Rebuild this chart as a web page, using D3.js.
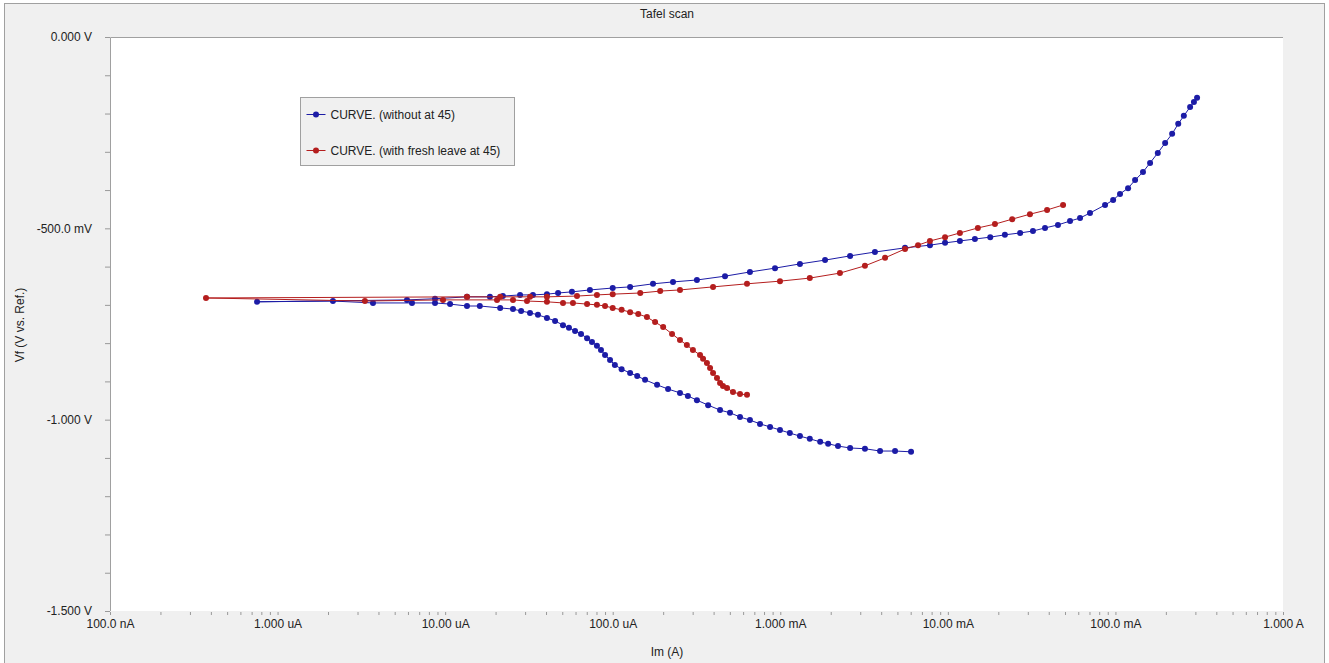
<!DOCTYPE html>
<html>
<head>
<meta charset="utf-8">
<script src="https://cdn.jsdelivr.net/npm/d3@7"></script>
<style>
  body { margin: 0; background: #fff; }
  svg { display: block; font-family: "Liberation Sans", Arial, sans-serif; }
</style>
</head>
<body>
<svg id="chart" width="1329" height="663"></svg>
<script>
// Tafel scan, |I| (A) vs potential (V), points in scan order
const withoutPoints = [
  [6.03e-3, -1.084], [4.84e-3, -1.082], [3.94e-3, -1.082], [3.20e-3, -1.076], [2.61e-3, -1.074],
  [2.21e-3, -1.069], [1.93e-3, -1.063], [1.73e-3, -1.058], [1.50e-3, -1.050], [1.31e-3, -1.043],
  [1.14e-3, -1.035], [9.96e-4, -1.027], [8.69e-4, -1.019], [7.57e-4, -1.011], [6.59e-4, -1.001],
  [5.75e-4, -0.993], [5.01e-4, -0.982], [4.37e-4, -0.975], [3.71e-4, -0.962], [3.18e-4, -0.949],
  [2.81e-4, -0.938], [2.52e-4, -0.930], [2.14e-4, -0.920], [1.84e-4, -0.909], [1.56e-4, -0.896],
  [1.40e-4, -0.886], [1.27e-4, -0.878], [1.13e-4, -0.868], [1.03e-4, -0.857], [9.64e-5, -0.844],
  [9.0e-5, -0.831], [8.51e-5, -0.818], [8.05e-5, -0.807], [7.52e-5, -0.797], [7.03e-5, -0.787],
  [6.47e-5, -0.776], [5.96e-5, -0.768], [5.48e-5, -0.760], [5.05e-5, -0.753], [4.53e-5, -0.742],
  [4.05e-5, -0.734], [3.58e-5, -0.726], [3.21e-5, -0.721], [2.84e-5, -0.716], [2.54e-5, -0.711],
  [2.13e-5, -0.708], [1.61e-5, -0.703], [1.35e-5, -0.703], [1.07e-5, -0.698], [8.7e-6, -0.695],
  [6.34e-6, -0.695], [3.71e-6, -0.695], [2.14e-6, -0.690], [7.54e-7, -0.692], [5.92e-6, -0.687],
  [8.7e-6, -0.684], [1.35e-5, -0.679], [1.85e-5, -0.679], [2.21e-5, -0.677], [2.80e-5, -0.674],
  [3.34e-5, -0.674], [4.05e-5, -0.672], [4.72e-5, -0.669], [5.71e-5, -0.666], [7.31e-5, -0.661],
  [1.0e-4, -0.656], [1.27e-4, -0.653], [1.74e-4, -0.645], [2.29e-4, -0.640], [3.18e-4, -0.635],
  [4.68e-4, -0.625], [6.59e-4, -0.614], [9.3e-4, -0.604], [1.31e-3, -0.593], [1.85e-3, -0.583],
  [2.61e-3, -0.572], [3.67e-3, -0.562], [5.55e-3, -0.551], [7.82e-3, -0.544], [9.62e-3, -0.538],
  [1.18e-2, -0.533], [1.45e-2, -0.528], [1.79e-2, -0.523], [2.19e-2, -0.517], [2.70e-2, -0.512],
  [3.22e-2, -0.507], [3.80e-2, -0.499], [4.54e-2, -0.491], [5.36e-2, -0.481], [6.15e-2, -0.473],
  [7.05e-2, -0.460], [8.67e-2, -0.439], [9.69e-2, -0.426], [0.1065, -0.410], [0.119, -0.395],
  [0.131, -0.374], [0.146, -0.353], [0.161, -0.329], [0.179, -0.303], [0.198, -0.277],
  [0.218, -0.253], [0.237, -0.227], [0.256, -0.206], [0.279, -0.183], [0.294, -0.170],
  [0.307, -0.159]
];

const freshPoints = [
  [6.33e-4, -0.935], [5.75e-4, -0.933], [5.22e-4, -0.928], [4.81e-4, -0.917], [4.55e-4, -0.912],
  [4.37e-4, -0.904], [4.19e-4, -0.891], [3.97e-4, -0.878], [3.81e-4, -0.865], [3.65e-4, -0.852],
  [3.46e-4, -0.841], [3.32e-4, -0.831], [3.01e-4, -0.818], [2.77e-4, -0.805], [2.52e-4, -0.792],
  [2.26e-4, -0.776], [2.0e-4, -0.758], [1.79e-4, -0.745], [1.60e-4, -0.732], [1.42e-4, -0.724],
  [1.27e-4, -0.719], [1.13e-4, -0.713], [1.0e-4, -0.708], [9.0e-5, -0.703], [8.05e-5, -0.700],
  [7.03e-5, -0.698], [5.79e-5, -0.695], [5.05e-5, -0.695], [4.05e-5, -0.692], [3.08e-5, -0.690],
  [2.54e-5, -0.687], [2.04e-5, -0.687], [9.71e-6, -0.687], [3.32e-6, -0.690], [3.74e-7, -0.682],
  [1.35e-5, -0.679], [2.13e-5, -0.679], [3.21e-5, -0.679], [4.05e-5, -0.679], [6.12e-5, -0.677],
  [8.05e-5, -0.674], [1.0e-4, -0.672], [1.46e-4, -0.669], [1.92e-4, -0.664], [2.52e-4, -0.661],
  [3.97e-4, -0.653], [6.33e-4, -0.645], [9.96e-4, -0.638], [1.50e-3, -0.630], [2.27e-3, -0.617],
  [3.20e-3, -0.598], [4.22e-3, -0.577], [5.55e-3, -0.554], [6.64e-3, -0.544], [7.82e-3, -0.533],
  [9.62e-3, -0.523], [1.18e-2, -0.512], [1.51e-2, -0.499], [1.91e-2, -0.489], [2.42e-2, -0.476],
  [3.09e-2, -0.463], [3.91e-2, -0.452], [4.87e-2, -0.439]
];

const seriesNames = ["CURVE. (without at 45)", "CURVE. (with fresh leave at 45)"];
const seriesColors = ["#1c1ca6", "#b41e1e"];

const xTickValues = [1e-7, 1e-6, 1e-5, 1e-4, 1e-3, 1e-2, 1e-1, 1];
const xTickLabels = ["100.0 nA", "1.000 uA", "10.00 uA", "100.0 uA", "1.000 mA", "10.00 mA", "100.0 mA", "1.000 A"];
const yTickValues = [0, -0.5, -1, -1.5];
const yTickLabels = ["0.000 V", "-500.0 mV", "-1.000 V", "-1.500 V"];

const svg = d3.select("#chart");
const W = 1329, H = 663;
const plot = { left: 110, top: 37, right: 1283, bottom: 611 };
const fontSize = 12;

// outer panel
svg.append("rect")
  .attr("x", 4.5).attr("y", 3.5)
  .attr("width", W - 9).attr("height", H)
  .attr("fill", "#f0f0f0")
  .attr("stroke", "#a0a0a0");

// plot area
svg.append("rect")
  .attr("x", plot.left).attr("y", plot.top)
  .attr("width", plot.right - plot.left).attr("height", plot.bottom - plot.top)
  .attr("fill", "#fff");
svg.append("path")
  .attr("d", `M${plot.left + 0.5},${plot.bottom}V${plot.top + 0.5}H${plot.right}`)
  .attr("fill", "none")
  .attr("stroke", "#a0a0a0");

// scales
const x = d3.scaleLog().domain([1e-7, 1]).range([plot.left, plot.right]);
const y = d3.scaleLinear().domain([0, -1.5]).range([plot.top, plot.bottom]);

// x minor ticks
const xMinor = [];
for (let e = -7; e < 0; e++) for (let m = 1; m < 10; m++) xMinor.push(m * Math.pow(10, e));
xMinor.push(1);

const xTicks = svg.append("g")
  .attr("transform", `translate(0,${plot.bottom + 1})`)
  .call(d3.axisBottom(x).tickValues(xMinor).tickSize(3).tickFormat(""));
xTicks.select(".domain").remove();
xTicks.selectAll("line").attr("stroke", "#999");

const xLabels = svg.append("g")
  .attr("transform", `translate(0,${plot.bottom})`)
  .call(d3.axisBottom(x).tickValues(xTickValues).tickSize(0).tickPadding(8)
    .tickFormat((d, i) => xTickLabels[i]));
xLabels.select(".domain").remove();
xLabels.selectAll("text")
  .attr("font-size", fontSize).attr("font-family", "Liberation Sans, Arial, sans-serif").attr("fill", "#222");

// y ticks
const yMinor = d3.range(0, 16).map(i => -i / 10);
const yTicks = svg.append("g")
  .attr("transform", `translate(${plot.left},0)`)
  .call(d3.axisLeft(y).tickValues(yMinor).tickSize(5).tickFormat(""));
yTicks.select(".domain").remove();
yTicks.selectAll("line").attr("stroke", "#999");

const yLabels = svg.append("g")
  .attr("transform", `translate(${plot.left - 18},0)`)
  .call(d3.axisLeft(y).tickValues(yTickValues).tickSize(0).tickPadding(0)
    .tickFormat((d, i) => yTickLabels[i]));
yLabels.select(".domain").remove();
yLabels.selectAll("text")
  .attr("font-size", fontSize).attr("font-family", "Liberation Sans, Arial, sans-serif").attr("fill", "#222");

// titles
svg.append("text")
  .attr("x", 667).attr("y", 18)
  .attr("text-anchor", "middle")
  .attr("font-size", fontSize).attr("fill", "#222")
  .text("Tafel scan");

svg.append("text")
  .attr("x", 667).attr("y", 656)
  .attr("text-anchor", "middle")
  .attr("font-size", fontSize).attr("fill", "#222")
  .text("Im (A)");

svg.append("text")
  .attr("transform", "translate(24,325) rotate(-90)")
  .attr("text-anchor", "middle")
  .attr("font-size", fontSize).attr("fill", "#222")
  .text("Vf (V vs. Ref.)");

// curves
const line = d3.line()
  .x(d => x(d[0]))
  .y(d => y(d[1]));

const chartArea = svg.append("g");

[withoutPoints, freshPoints].forEach((pts, i) => {
  const g = chartArea.append("g").attr("class", "series");
  g.append("path")
    .datum(pts)
    .attr("d", line)
    .attr("fill", "none")
    .attr("stroke", seriesColors[i])
    .attr("stroke-width", 1);
  g.selectAll("circle")
    .data(pts)
    .enter()
    .append("circle")
    .attr("cx", d => x(d[0]))
    .attr("cy", d => y(d[1]))
    .attr("r", 3)
    .attr("fill", seriesColors[i]);
});

// legend
const legend = svg.append("g").attr("transform", "translate(300.5,97.5)");
legend.append("rect")
  .attr("width", 214).attr("height", 68)
  .attr("fill", "#f0f0f0")
  .attr("stroke", "#a0a0a0");

const legendItems = legend.selectAll(".legend-item")
  .data(seriesNames)
  .enter()
  .append("g")
  .attr("class", "legend-item")
  .attr("transform", (d, i) => `translate(0,${17 + i * 36})`);

legendItems.append("line")
  .attr("x1", 6).attr("x2", 25)
  .attr("stroke", (d, i) => seriesColors[i]);
legendItems.append("circle")
  .attr("cx", 15.5).attr("r", 3)
  .attr("fill", (d, i) => seriesColors[i]);
legendItems.append("text")
  .attr("x", 30).attr("dy", "0.35em")
  .attr("font-size", fontSize).attr("fill", "#222")
  .text(d => d);
</script>
</body>
</html>
